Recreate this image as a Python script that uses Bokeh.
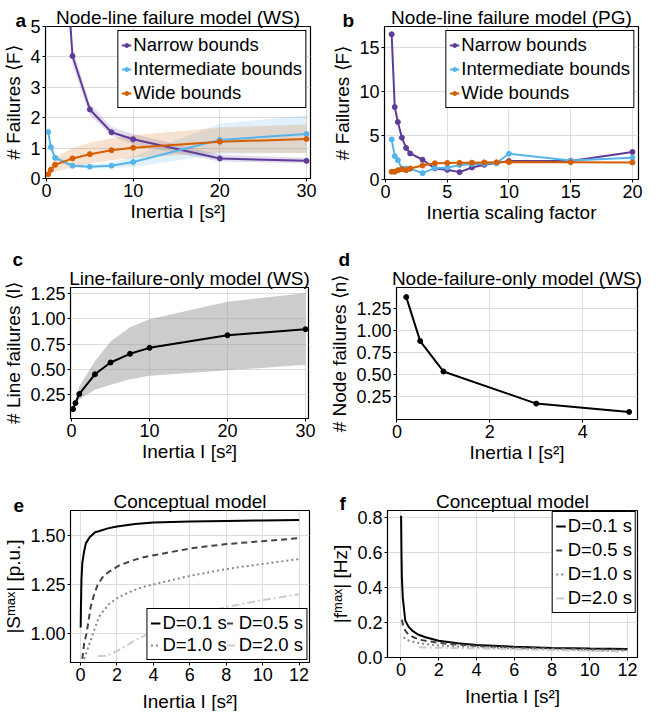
from bokeh.plotting import figure
from bokeh.layouts import column, row
from bokeh.models import Range1d, FixedTicker, NumeralTickFormatter, Legend, LegendItem, Title
from bokeh.embed import file_html
from bokeh.resources import INLINE

FONT = "Liberation Sans"
PURPLE = "#5e3c99"
CYAN = "#56b4e9"
ORANGE = "#d55e00"

# ---------------- data ----------------
a_inertia = [0.2, 0.5, 1, 3, 5, 7.5, 10, 20, 30]
a_narrow = [30, 20, 12.5, 4.03, 2.27, 1.52, 1.29, 0.66, 0.58]
a_narrow_lo = [25, 16, 10.5, 3.75, 2.08, 1.41, 1.12, 0.56, 0.50]
a_narrow_hi = [35, 24, 14.5, 4.30, 2.45, 1.70, 1.46, 0.78, 0.68]
a_inter = [1.53, 1.03, 0.68, 0.42, 0.39, 0.42, 0.54, 1.27, 1.46]
a_inter_lo = [1.45, 0.95, 0.60, 0.36, 0.33, 0.34, 0.38, 0.80, 0.85]
a_inter_hi = [1.60, 1.10, 0.76, 0.48, 0.46, 0.52, 0.72, 1.80, 2.08]
a_wide = [0.14, 0.29, 0.45, 0.66, 0.80, 0.93, 1.01, 1.21, 1.30]
a_wide_lo = [0.08, 0.15, 0.22, 0.36, 0.50, 0.60, 0.68, 0.85, 0.84]
a_wide_hi = [0.20, 0.45, 0.68, 1.00, 1.18, 1.32, 1.42, 1.68, 1.78]

b_scale = [0.5, 0.75, 1, 1.33, 1.67, 2, 3, 4, 5, 6, 7, 8, 9, 10, 15, 20]
b_narrow = [16.55, 8.26, 6.55, 4.76, 3.6, 2.97, 2.25, 1.26, 1.1, 0.84, 1.37, 1.68, 1.87, 2.1, 2.1, 3.13]
b_inter = [4.57, 2.67, 2.21, 1.25, 1.25, 1.22, 0.72, 1.3, 1.35, 1.65, 1.75, 1.8, 1.88, 2.93, 2.17, 2.48]
b_wide = [0.88, 0.88, 1.06, 1.18, 1.06, 1.25, 1.6, 1.85, 1.88, 1.9, 1.92, 1.95, 1.97, 1.98, 1.97, 1.94]

c_inertia = [0.2, 0.5, 1, 3, 5, 7.5, 10, 20, 30]
c_line = [0.105, 0.165, 0.255, 0.45, 0.567, 0.653, 0.712, 0.837, 0.897]
c_lo = [0.095, 0.14, 0.20, 0.296, 0.346, 0.40, 0.435, 0.49, 0.544]
c_hi = [0.115, 0.20, 0.33, 0.58, 0.775, 0.915, 0.995, 1.17, 1.255]

d_inertia = [0.2, 0.5, 1, 3, 5]
d_node = [1.38, 0.88, 0.535, 0.17, 0.075]

e_I_01 = [0.01, 0.02, 0.05, 0.1, 0.2, 0.3, 0.5, 0.8, 1.0, 1.5, 2, 3, 4, 6, 8, 10, 12]
e_S_01 = [1.03, 1.12, 1.27, 1.36, 1.42, 1.46, 1.49, 1.515, 1.52, 1.535, 1.545, 1.557, 1.565, 1.57, 1.573, 1.575, 1.577]
e_I_05 = [0.1, 0.2, 0.33, 0.45, 0.56, 0.75, 0.93, 1.2, 1.5, 2.1, 2.8, 3.4, 4.7, 6.2, 8, 10, 12]
e_S_05 = [0.87, 0.95, 1.0, 1.07, 1.135, 1.2, 1.245, 1.285, 1.31, 1.345, 1.37, 1.387, 1.41, 1.435, 1.455, 1.47, 1.485]
e_I_10 = [0.2, 0.35, 0.56, 0.8, 1.02, 1.3, 1.57, 2.1, 2.8, 3.4, 4.7, 6.0, 8, 10, 12]
e_S_10 = [0.87, 0.91, 0.966, 1.03, 1.085, 1.12, 1.15, 1.185, 1.215, 1.236, 1.265, 1.293, 1.328, 1.354, 1.379]
e_I_20 = [0.95, 1.4, 2.0, 3.0, 4.0, 5.0, 6.0, 8.0, 10.0, 12.0]
e_S_20 = [0.885, 0.885, 0.91, 0.965, 1.01, 1.05, 1.085, 1.135, 1.17, 1.20]

f_I_01 = [0.01, 0.03, 0.05, 0.1, 0.23, 0.4, 0.6, 0.9, 1.3, 2.0, 3.0, 4.0, 6.0, 8.0, 10.0, 12.0]
f_f_01 = [0.81, 0.6, 0.46, 0.34, 0.21, 0.175, 0.152, 0.13, 0.114, 0.094, 0.079, 0.07, 0.06, 0.053, 0.049, 0.046]
f_I_05 = [0.05, 0.12, 0.23, 0.4, 0.67, 1.0, 1.3, 2.0, 2.5, 4.3, 6.0, 8.0, 10.0, 12.0]
f_f_05 = [0.215, 0.18, 0.152, 0.13, 0.114, 0.1, 0.094, 0.082, 0.075, 0.062, 0.055, 0.05, 0.046, 0.042]
f_I_10 = [0.14, 0.3, 0.5, 0.76, 1.2, 2.0, 3.0, 4.3, 6.0, 8.0, 10.0, 12.0]
f_f_10 = [0.114, 0.1, 0.092, 0.085, 0.076, 0.067, 0.061, 0.056, 0.05, 0.045, 0.04, 0.036]
f_I_20 = [0.94, 1.5, 2.0, 3.0, 4.0, 6.0, 8.0, 10.0, 12.0]
f_f_20 = [0.056, 0.055, 0.054, 0.052, 0.05, 0.045, 0.04, 0.036, 0.032]

d_labels = ["D=0.1 s", "D=0.5 s", "D=1.0 s", "D=2.0 s"]
inertia_label = "Inertia I [s²]"


def make_fig(xr, yr, fw, fh, bl, br, bt, bb, title, letter, l_off, l_standoff,
             xlabel, ylabel, xticks, yticks, yfmt=None, xlabel_standoff=1):
    p = figure(frame_width=fw, frame_height=fh,
               min_border_left=bl, min_border_right=br, min_border_top=bt, min_border_bottom=bb,
               x_range=Range1d(*xr), y_range=Range1d(*yr), title=None,
               output_backend="svg", toolbar_location=None)
    p.add_layout(Title(text=title, align="center", standoff=-2, text_font=FONT,
                       text_font_size="19px", text_font_style="normal", text_color="black"), "above")
    p.add_layout(Title(text=letter, align="left", offset=l_off, standoff=l_standoff,
                       vertical_align="bottom", text_font=FONT, text_font_size="19px",
                       text_font_style="bold", text_color="black"), "above")
    p.outline_line_color = "black"
    p.outline_line_width = 1.2
    p.outline_line_alpha = 1
    p.grid.grid_line_color = "#dddddd"
    p.grid.grid_line_width = 1
    for ax in (p.xaxis[0], p.yaxis[0]):
        ax.major_tick_out = 3
        ax.major_tick_in = 0
        ax.minor_tick_out = 0
        ax.minor_tick_in = 0
        ax.major_label_standoff = 2
        ax.major_label_text_font = FONT
        ax.major_label_text_font_size = "18px"
        ax.major_label_text_color = "black"
        ax.axis_label_text_font = FONT
        ax.axis_label_text_font_size = "19px"
        ax.axis_label_text_font_style = "normal"
        ax.axis_label_text_color = "black"
        ax.axis_line_color = "black"
        ax.major_tick_line_color = "black"
    p.xaxis.axis_label_standoff = xlabel_standoff
    p.yaxis.axis_label_standoff = 3
    p.xaxis.axis_label = xlabel
    p.yaxis.axis_label = ylabel
    p.xaxis.ticker = FixedTicker(ticks=xticks)
    p.yaxis.ticker = FixedTicker(ticks=yticks)
    if yfmt:
        p.yaxis.formatter = NumeralTickFormatter(format=yfmt)
    return p


def style_legend(lg, loc, ncols=None, margin=3, spacing=2):
    lg.location = loc
    lg.border_line_color = "black"
    lg.border_line_width = 1.2
    lg.border_line_alpha = 1
    lg.label_text_font = FONT
    lg.label_text_font_size = "18.5px"
    lg.label_text_color = "black"
    lg.glyph_width = 10
    lg.glyph_height = 20
    lg.label_height = 20
    lg.label_standoff = 2
    lg.spacing = spacing
    lg.padding = 3
    lg.margin = margin
    lg.background_fill_alpha = 1
    if ncols:
        lg.ncols = ncols


# ---------------- panel a ----------------
pa = make_fig((-0.115, 30.46), (0, 5), 265, 152, 40, 16, 26, 58,
              "Node-line failure model (WS)", "a", -30, -50,
              inertia_label, "# Failures ⟨F⟩", [0, 10, 20, 30], [0, 1, 2, 3, 4, 5])
items = []
for name, col, m, lo, hi in [("Narrow bounds", PURPLE, a_narrow, a_narrow_lo, a_narrow_hi),
                             ("Intermediate bounds", CYAN, a_inter, a_inter_lo, a_inter_hi),
                             ("Wide bounds", ORANGE, a_wide, a_wide_lo, a_wide_hi)]:
    pa.varea(x=a_inertia, y1=lo, y2=hi, fill_color=col, fill_alpha=0.18)
for name, col, m in [("Narrow bounds", PURPLE, a_narrow),
                     ("Intermediate bounds", CYAN, a_inter),
                     ("Wide bounds", ORANGE, a_wide)]:
    r1 = pa.line(a_inertia, m, line_color=col, line_width=2)
    r2 = pa.scatter(a_inertia, m, size=5, fill_color=col, line_color=col)
    items.append(LegendItem(label=name, renderers=[r1, r2]))
lga = Legend(items=items)
style_legend(lga, "top_right", margin=4)
pa.add_layout(lga)

# ---------------- panel b ----------------
pb = make_fig((-0.08, 20.49), (0, 17.43), 254, 153, 58, 9, 26, 57,
              "Node-line failure model (PG)", "b", -42, -50,
              "Inertia scaling factor", "# Failures ⟨F⟩", [0, 5, 10, 15, 20], [0, 5, 10, 15])
items = []
for name, col, m in [("Narrow bounds", PURPLE, b_narrow),
                     ("Intermediate bounds", CYAN, b_inter),
                     ("Wide bounds", ORANGE, b_wide)]:
    r1 = pb.line(b_scale, m, line_color=col, line_width=2)
    r2 = pb.scatter(b_scale, m, size=5, fill_color=col, line_color=col)
    items.append(LegendItem(label=name, renderers=[r1, r2]))
lgb = Legend(items=items)
style_legend(lgb, "top_right", margin=4)
pb.add_layout(lgb)

# ---------------- panel c ----------------
pc = make_fig((-0.13, 30.38), (0.012, 1.31), 238, 131, 67, 16, 51, 48,
              "Line-failure-only model (WS)", "c", -58, -6,
              inertia_label, "# Line failures ⟨l⟩", [0, 10, 20, 30],
              [0.25, 0.5, 0.75, 1.0, 1.25], "0.00")
pc.varea(x=c_inertia, y1=c_lo, y2=c_hi, fill_color="#999999", fill_alpha=0.5)
pc.line(c_inertia, c_line, line_color="black", line_width=2)
pc.scatter(c_inertia, c_line, size=5, fill_color="black", line_color="black")

# ---------------- panel d ----------------
pd_ = make_fig((-0.01, 5.18), (-0.011, 1.489), 241, 132, 72, 8, 50, 48,
               "Node-failure-only model (WS)", "d", -58, -6,
               inertia_label, "# Node failures ⟨n⟩", [0, 2, 4],
               [0.25, 0.5, 0.75, 1.0, 1.25], "0.00")
pd_.line(d_inertia, d_node, line_color="black", line_width=2)
pd_.scatter(d_inertia, d_node, size=5, fill_color="black", line_color="black")

# ---------------- panel e ----------------
STYLES = [("black", "solid"), ("#444444", "6 4"), ("#888888", "2 3"), ("#cccccc", "8 3 2 3")]
pe = make_fig((-0.55, 12.57), (0.852, 1.626), 239, 152, 66, 16, 41, 48,
              "Conceptual model", "e", -57, -44,
              inertia_label, "|Sᵐᵃˣ| [p.u.]", [0, 2, 4, 6, 8, 10, 12], [1.0, 1.25, 1.5], "0.00",
              xlabel_standoff=7)
e_items = {}
for (xs, ys), (col, dash), lab in zip([(e_I_01, e_S_01), (e_I_05, e_S_05), (e_I_10, e_S_10), (e_I_20, e_S_20)],
                                      STYLES, d_labels):
    r = pe.line(xs, ys, line_color=col, line_width=2, line_dash=dash)
    e_items[lab] = LegendItem(label=lab, renderers=[r])
# legend fills column-first: order so the rows read 0.1 | 0.5 and 1.0 | 2.0
lge = Legend(items=[e_items[d_labels[0]], e_items[d_labels[2]], e_items[d_labels[1]], e_items[d_labels[3]]])
style_legend(lge, "bottom_right", ncols=2, margin=2, spacing=0)
pe.add_layout(lge)

# ---------------- panel f ----------------
pf = make_fig((-0.71, 12.53), (-0.002, 0.84), 250, 147, 62, 9, 44, 50,
              "Conceptual model", "f", -48, -48,
              inertia_label, "|fᵐᵃˣ| [Hz]", [0, 2, 4, 6, 8, 10, 12], [0.0, 0.2, 0.4, 0.6, 0.8], "0.0",
              xlabel_standoff=7)
items = []
for (xs, ys), (col, dash), lab in zip([(f_I_01, f_f_01), (f_I_05, f_f_05), (f_I_10, f_f_10), (f_I_20, f_f_20)],
                                      STYLES, d_labels):
    r = pf.line(xs, ys, line_color=col, line_width=2, line_dash=dash)
    items.append(LegendItem(label=lab, renderers=[r]))
lgf = Legend(items=items)
style_legend(lgf, "top_right", margin=1)
pf.add_layout(lgf)

layout = column(row(pa, pb), row(pc, pd_), row(pe, pf))
open("out.html", "w").write(file_html(layout, INLINE))
